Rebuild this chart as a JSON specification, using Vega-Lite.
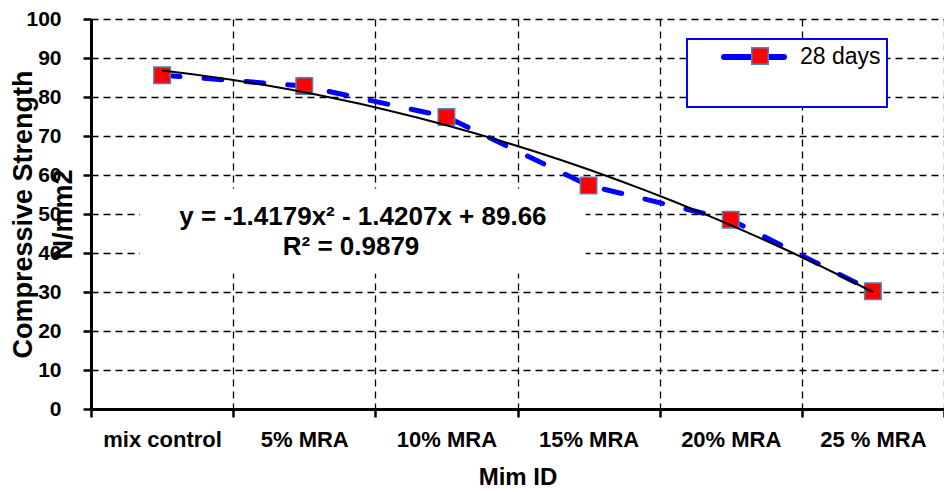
{
  "$schema": "https://vega.github.io/schema/vega-lite/v6.json",
  "width": 853,
  "height": 390,
  "autosize": {"type": "none"},
  "padding": {"left": 91, "top": 19, "right": 0, "bottom": 83},
  "background": "white",
  "config": {
    "font": "Liberation Sans",
    "view": {"stroke": null},
    "axisY": {
      "values": [0, 10, 20, 30, 40, 50, 60, 70, 80, 90, 100],
      "grid": true,
      "gridDash": [7, 5],
      "gridColor": "black",
      "gridWidth": 1.3,
      "gridOpacity": 1,
      "domainWidth": 3,
      "domainColor": "black",
      "tickColor": "black",
      "tickWidth": 2.5,
      "tickSize": 8,
      "labelFontSize": 21,
      "labelFontWeight": "bold",
      "labelColor": "black",
      "labelPadding": 22,
      "titleFontSize": 27,
      "titleFontWeight": "bold",
      "titleColor": "black",
      "titleLineHeight": 40,
      "titleBaseline": "middle",
      "titleX": -68
    }
  },
  "data": {
    "values": [
      {"mix": "mix control", "order": 1, "strength": 85.6, "series": "28 days"},
      {"mix": "5% MRA", "order": 2, "strength": 82.8, "series": "28 days"},
      {"mix": "10% MRA", "order": 3, "strength": 74.9, "series": "28 days"},
      {"mix": "15% MRA", "order": 4, "strength": 57.3, "series": "28 days"},
      {"mix": "20% MRA", "order": 5, "strength": 48.5, "series": "28 days"},
      {"mix": "25 % MRA", "order": 6, "strength": 30.2, "series": "28 days"}
    ]
  },
  "resolve": {"scale": {"x": "independent"}},
  "layer": [
    {
      "data": {"values": [{"equation": "y = -1.4179x² - 1.4207x + 89.66", "r2": "R² = 0.9879"}]},
      "layer": [
        {
          "mark": {"type": "rect", "fill": "white"},
          "encoding": {
            "x": {"datum": 0.845, "type": "quantitative", "scale": {"domain": [0.5, 6.5], "nice": false, "zero": false}, "axis": null},
            "x2": {"datum": 3.98},
            "y": {"datum": 34.7, "type": "quantitative", "scale": {"domain": [0, 100], "nice": false, "zero": true}, "title": ["Compressive Strength", "N/mm2"]},
            "y2": {"datum": 56.5}
          }
        },
        {
          "mark": {"type": "text", "fontSize": 26, "fontWeight": "bold", "align": "center", "baseline": "middle", "color": "black"},
          "encoding": {
            "text": {"field": "equation"},
            "x": {"datum": 2.413, "type": "quantitative"},
            "y": {"datum": 49.2, "type": "quantitative", "title": ["Compressive Strength", "N/mm2"]}
          }
        },
        {
          "mark": {"type": "text", "fontSize": 26, "fontWeight": "bold", "align": "center", "baseline": "middle", "color": "black"},
          "encoding": {
            "text": {"field": "r2"},
            "x": {"datum": 2.329, "type": "quantitative"},
            "y": {"datum": 41.5, "type": "quantitative", "title": ["Compressive Strength", "N/mm2"]}
          }
        }
      ]
    },
    {
      "layer": [
        {
          "mark": {"type": "line", "strokeWidth": 5, "strokeDash": [18, 24], "strokeCap": "round"},
          "encoding": {
            "x": {
              "field": "mix", "type": "nominal", "sort": null,
              "scale": {"type": "band", "paddingInner": 0, "paddingOuter": 0},
              "axis": {
                "orient": "bottom",
                "title": "Mim ID",
                "tickBand": "extent",
                "grid": true,
                "gridDash": [7, 5],
                "gridColor": "black",
                "gridWidth": 1.3,
                "gridOpacity": 1,
                "domainWidth": 3,
                "domainColor": "black",
                "tickColor": "black",
                "tickWidth": 2.5,
                "tickSize": 8,
                "labelFontSize": 22,
                "labelFontWeight": "bold",
                "labelColor": "black",
                "labelPadding": 12,
                "labelAngle": 0,
                "titleFontSize": 24,
                "titleFontWeight": "bold",
                "titleColor": "black",
                "titlePadding": 15
              }
            },
            "y": {"field": "strength", "type": "quantitative", "title": ["Compressive Strength", "N/mm2"]},
            "order": {"field": "order"},
            "stroke": {
              "field": "series", "type": "nominal",
              "scale": {"range": ["#0000ff"]},
              "legend": {
                "orient": "none",
                "legendX": 596,
                "legendY": 20,
                "title": "\u2003\u2003\u2003\u2003\u2003\u2003\u2003\u2003\u2003\u2003",
                "titleOrient": "bottom",
                "titleFontSize": 21.3,
                "titleLimit": 400,
                "titlePadding": 10,
                "fillColor": "white",
                "strokeColor": "#0000ff",
                "padding": 6,
                "clipHeight": 24,
                "symbolType": "stroke",
                "symbolSize": 3600,
                "symbolStrokeWidth": 6,
                "symbolStrokeColor": "#0000ff",
                "symbolDash": [1, 0],
                "symbolOffset": 28,
                "labelFontSize": 23,
                "labelOffset": 13,
                "labelColor": "black",
                "zindex": 1,
                "encode": {
                  "legend": {"update": {"strokeWidth": {"value": 2}}},
                  "symbols": {"update": {"strokeCap": {"value": "round"}}}
                }
              }
            }
          }
        },
        {
          "mark": {"type": "point", "shape": "square", "filled": true, "size": 272, "stroke": "#4f81bd", "strokeWidth": 1.5, "opacity": 1},
          "encoding": {
            "x": {"field": "mix", "type": "nominal", "sort": null},
            "y": {"field": "strength", "type": "quantitative", "title": ["Compressive Strength", "N/mm2"]},
            "fill": {
              "datum": "28 days", "type": "nominal",
              "scale": {"range": ["#ff0000"]},
              "legend": {
                "orient": "none",
                "legendX": 660,
                "legendY": 28,
                "title": null,
                "padding": 0,
                "symbolType": "square",
                "symbolSize": 272,
                "symbolStrokeColor": "#4f81bd",
                "symbolStrokeWidth": 1.5,
                "symbolOpacity": 1,
                "labelExpr": "''",
                "labelFontSize": 1,
                "zindex": 2
              }
            }
          }
        }
      ]
    },
    {
      "transform": [{"regression": "strength", "on": "order", "method": "poly", "order": 2, "extent": [1, 6]}],
      "mark": {"type": "line", "color": "black", "strokeWidth": 2},
      "encoding": {
        "x": {"field": "order", "type": "quantitative", "scale": {"domain": [0.5, 6.5], "nice": false, "zero": false}, "axis": null},
        "y": {"field": "strength", "type": "quantitative", "title": ["Compressive Strength", "N/mm2"]}
      }
    }
  ]
}
